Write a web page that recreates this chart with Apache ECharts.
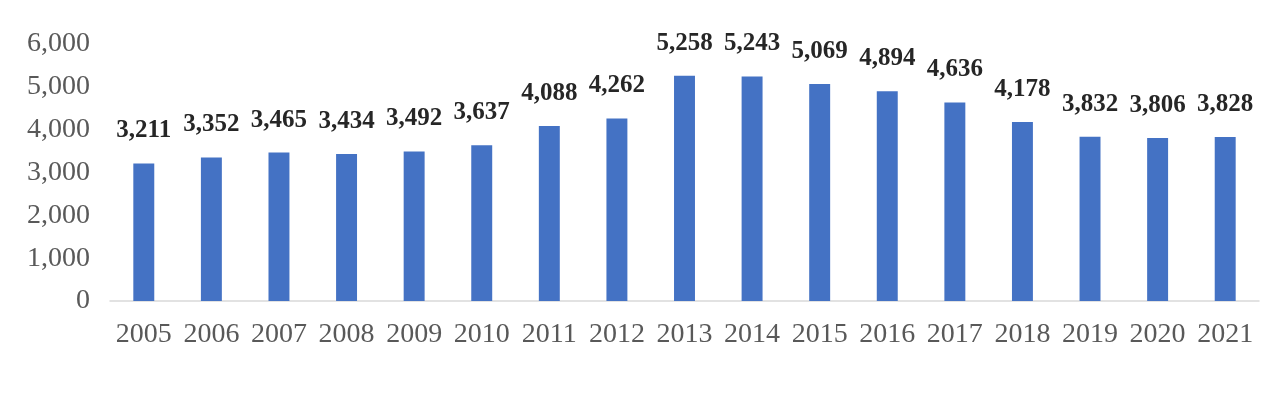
<!DOCTYPE html>
<html>
<head>
<meta charset="utf-8">
<script src="https://cdn.jsdelivr.net/npm/echarts@6/dist/echarts.min.js"></script>
<style>
  html, body { margin: 0; padding: 0; background: #fff; }
  #chart { width: 1280px; height: 398px; }
</style>
</head>
<body>
<div id="chart"></div>
<script>
var years = ['2005', '2006', '2007', '2008', '2009', '2010', '2011', '2012', '2013',
  '2014', '2015', '2016', '2017', '2018', '2019', '2020', '2021'];
var values = [3211, 3352, 3465, 3434, 3492, 3637, 4088, 4262, 5258,
  5243, 5069, 4894, 4636, 4178, 3832, 3806, 3828];

function fmt(v) {
  return String(v).replace(/\B(?=(\d{3})+(?!\d))/g, ',');
}

var chart = echarts.init(document.getElementById('chart'));
chart.setOption({
  animation: false,
  grid: { left: 110, right: 21, top: 44, bottom: 97 },
  xAxis: {
    type: 'category',
    data: years,
    axisTick: { show: false },
    axisLine: { lineStyle: { color: '#d9d9d9', width: 1.5 } },
    axisLabel: {
      interval: 0,
      hideOverlap: false,
      color: '#595959',
      fontFamily: 'Liberation Serif',
      fontSize: 28,
      margin: 20
    }
  },
  yAxis: {
    type: 'value',
    min: 0,
    max: 6000,
    interval: 1000,
    splitLine: { show: false },
    axisLine: { show: false },
    axisTick: { show: false },
    axisLabel: {
      color: '#595959',
      fontFamily: 'Liberation Serif',
      fontSize: 28,
      margin: 20,
      formatter: fmt
    }
  },
  series: [{
    type: 'bar',
    data: values,
    barWidth: '31%',
    itemStyle: { color: '#4472C4' },
    label: {
      show: true,
      position: 'top',
      distance: 20,
      color: '#262626',
      fontFamily: 'Liberation Serif',
      fontWeight: 'bold',
      fontSize: 25,
      formatter: function (p) { return fmt(p.value); }
    }
  }]
});
</script>
</body>
</html>
